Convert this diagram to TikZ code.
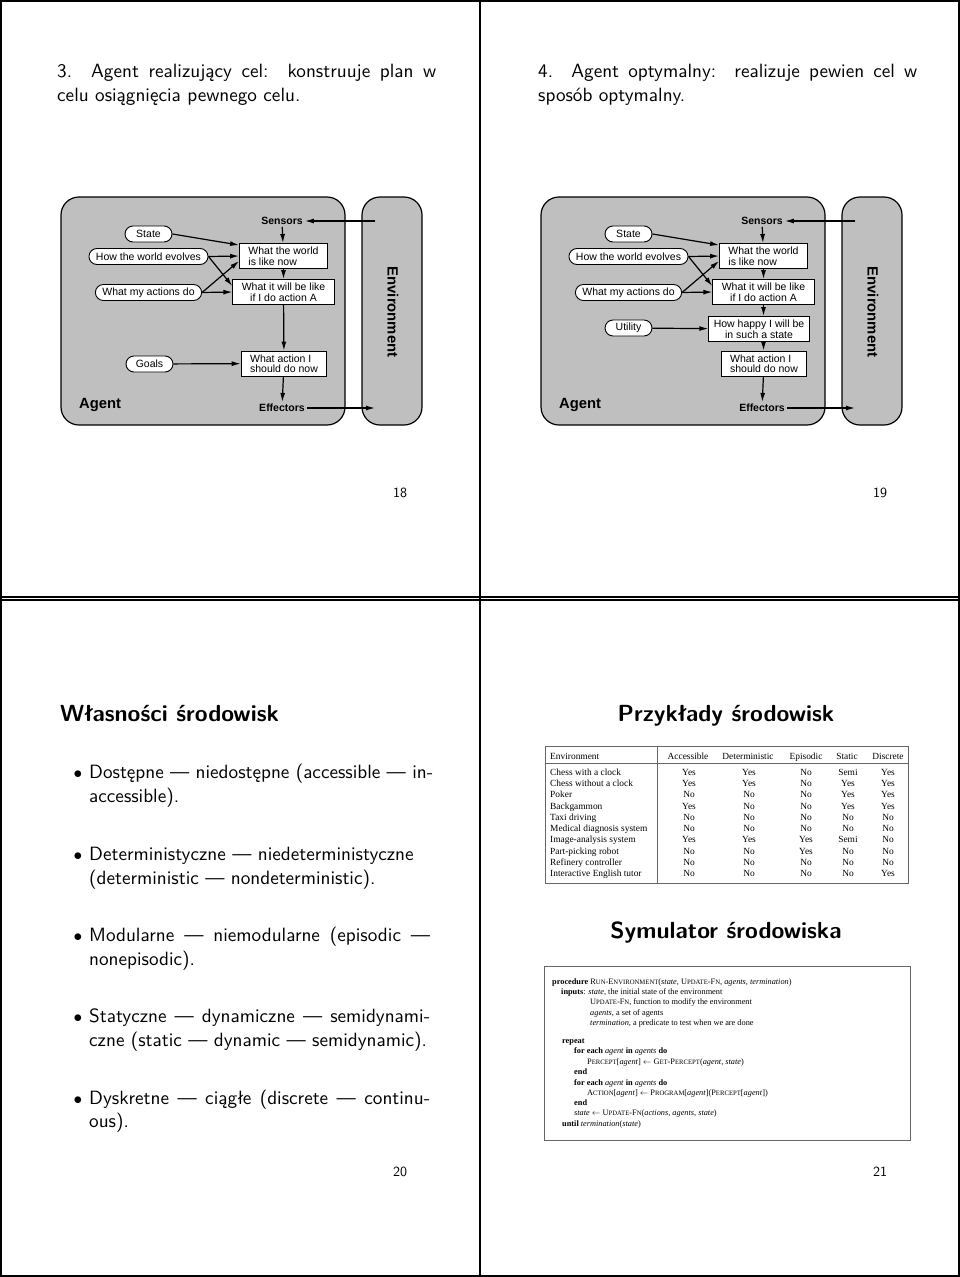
\documentclass[tikz,border=0pt]{standalone}
\usepackage{fontspec}
\usepackage{tikz}
\usetikzlibrary{positioning,arrows.meta,calc}

\newfontfamily\slidefont{lmsans10-regular.otf}[BoldFont=lmsans10-bold.otf]
\newfontfamily\arialfont{Liberation Sans}
\newfontfamily\timesfont{Liberation Serif}
\newcommand\fakesc[1]{{\fontsize{6.7}{6.7}\selectfont #1}}
\definecolor{agentgray}{gray}{0.75}
\definecolor{framegray}{gray}{0.4}

\begin{document}
\begin{tikzpicture}[x=1pt, y=-1pt, >={Latex[length=9pt,width=5pt]},
  slide/.style={anchor=base west, inner sep=0pt, font=\slidefont\fontsize{19.2}{24}\selectfont},
  slidetitle/.style={inner sep=0pt, font=\slidefont\bfseries\fontsize{23.3}{28}\selectfont},
  pagenum/.style={inner sep=0pt, font=\slidefont\fontsize{14}{16}\selectfont},
  agentbox/.style={draw, line width=1.2pt, fill=agentgray, rounded corners=18pt},
  oval/.style={draw, fill=white, line width=0.9pt, rounded corners=8pt, minimum height=16pt,
               minimum width=47pt, inner xsep=7pt, inner ysep=0pt, font=\arialfont\fontsize{10.5}{10.5}\selectfont},
  box/.style={draw, fill=white, line width=0.9pt, minimum height=25pt, inner xsep=9pt, inner ysep=2pt,
              align=left, font=\arialfont\fontsize{10.5}{10.5}\selectfont},
  lbl/.style={inner sep=2pt, font=\arialfont\bfseries\fontsize{10.5}{12}\selectfont},
  bigbold/.style={inner sep=0pt, font=\arialfont\bfseries\fontsize{14.8}{16}\selectfont},
  arr/.style={->, line width=1.2pt},
  cell/.style={inner sep=0pt, anchor=base, font=\timesfont\fontsize{9.4}{11}\selectfont},
  algline/.style={inner sep=0pt, anchor=base west, font=\timesfont\fontsize{8.3}{9}\selectfont},
]
\useasboundingbox (0,0) rectangle (960,1277);

% page frame
\draw[line width=1.5pt] (1,1) rectangle (959,1276);
\draw[line width=2pt] (480,0) -- (480,1277);
\draw[line width=1.2pt] (0,597) -- (960,597) (0,600) -- (960,600);

% slide 18
\node[slide] (t3a) at (57,77) {\makebox[379pt][s]{3.\ \ Agent realizujący cel:\ \ konstruuje plan w}};
\node[slide] (t3b) at (57,101) {celu osiągnięcia pewnego celu.};

\node[agentbox, minimum width=284pt, minimum height=228pt] (gbody) at (203,311) {};
\node[agentbox, minimum width=60pt, minimum height=228pt] (genvbox) at (392,311) {};
\node[bigbold, rotate=-90] (genv) at (393,312) {Environment};
\node[bigbold, anchor=base west] (gagent) at (79,408) {Agent};

\node[lbl] (gsens) at (282,221) {Sensors};
\node[lbl] (geff) at (282,408) {Effectors};
\coordinate (genvin) at (375,221);
\coordinate (genvout) at (375,408);

\node[oval] (gstate) at (148.5,234) {State};
\node[oval] (gevolve) at (148.5,256.5) {How the world evolves};
\node[oval] (gactions) at (148.5,292.5) {What my actions do};
\node[oval] (ggoals) at (149.5,364) {Goals};

\node[box] (gworld) at (283.5,256) {What the world\\is like now};
\node[box, align=center] (gwill) at (283.5,292) {What it will be like\\if I do action A};
\node[box] (gaction) at (284,363.5) {What action I\\should do now};

\draw[arr] (genvin) -- (gsens);
\draw[arr] (gsens) -- (gworld);
\draw[arr] (gstate.east) -- ([yshift=-2pt]gworld.north west);
\draw[arr] (gevolve.east) -- (gworld.west);
\draw[arr] (gevolve.east) -- ([yshift=6pt]gwill.west);
\draw[arr] (gactions.east) -- ([yshift=-5pt]gworld.west);
\draw[arr] (gactions.east) -- (gwill.west);
\draw[arr] (gworld) -- (gwill);
\draw[arr] (gwill) -- (gaction);
\draw[arr] (ggoals) -- (gaction);
\draw[arr] (gaction) -- (geff);
\draw[arr] (geff) -- (genvout);

\node[pagenum] (p18) at (400,493) {18};

% slide 19
\node[slide] (t4a) at (538,77) {\makebox[379pt][s]{4.\ \ Agent optymalny:\ \ realizuje pewien cel w}};
\node[slide] (t4b) at (538,101) {sposób optymalny.};

\begin{scope}[xshift=480pt]
\node[agentbox, minimum width=284pt, minimum height=228pt] (ubody) at (203,311) {};
\node[agentbox, minimum width=60pt, minimum height=228pt] (uenvbox) at (392,311) {};
\node[bigbold, rotate=-90] (uenv) at (393,312) {Environment};
\node[bigbold, anchor=base west] (uagent) at (79,408) {Agent};

\node[lbl] (usens) at (282,221) {Sensors};
\node[lbl] (ueff) at (282,408) {Effectors};
\coordinate (uenvin) at (375,221);
\coordinate (uenvout) at (375,408);

\node[oval] (ustate) at (148.5,234) {State};
\node[oval] (uevolve) at (148.5,256.5) {How the world evolves};
\node[oval] (uactions) at (148.5,292.5) {What my actions do};
\node[oval] (uutil) at (148.5,328) {Utility};

\node[box] (uworld) at (283.5,256) {What the world\\is like now};
\node[box, align=center] (uwill) at (283.5,292) {What it will be like\\if I do action A};
\node[box, align=center, inner xsep=5pt] (uhappy) at (279,329) {How happy I will be\\in such a state};
\node[box] (uaction) at (284,363.5) {What action I\\should do now};

\draw[arr] (uenvin) -- (usens);
\draw[arr] (usens) -- (uworld);
\draw[arr] (ustate.east) -- ([yshift=-2pt]uworld.north west);
\draw[arr] (uevolve.east) -- (uworld.west);
\draw[arr] (uevolve.east) -- ([yshift=6pt]uwill.west);
\draw[arr] (uactions.east) -- ([yshift=-5pt]uworld.west);
\draw[arr] (uactions.east) -- (uwill.west);
\draw[arr] (uworld) -- (uwill);
\draw[arr] (uwill.south) -- (uwill.south |- uhappy.north);
\draw[arr] (uutil) -- (uhappy);
\draw[arr] (uhappy.south -| uwill.south) -- (uaction.north -| uwill.south);
\draw[arr] (uaction) -- (ueff);
\draw[arr] (ueff) -- (uenvout);
\end{scope}

\node[pagenum] (p19) at (880,493) {19};

% slide 20
\node[slidetitle, anchor=base west] (wtitle) at (60,721) {Własności środowisk};
\foreach \y [count=\i] in {778,860,941,1022,1104}
  \node[inner sep=0pt, anchor=base, font=\fontsize{16}{16}\selectfont] (dot\i) at (78,\y) {$\bullet$};
\node[slide] (b1a) at (89,778) {\makebox[344pt][s]{Dostępne — niedostępne (accessible — in-}};
\node[slide] (b1b) at (89,802) {accessible).};
\node[slide] (b2a) at (89,860) {Deterministyczne — niedeterministyczne};
\node[slide] (b2b) at (89,884) {(deterministic — nondeterministic).};
\node[slide] (b3a) at (89,941) {\makebox[341pt][s]{Modularne — niemodularne (episodic —}};
\node[slide] (b3b) at (89,965) {nonepisodic).};
\node[slide] (b4a) at (89,1022) {\makebox[341pt][s]{Statyczne — dynamiczne — semidynami-}};
\node[slide] (b4b) at (89,1046) {czne (static — dynamic — semidynamic).};
\node[slide] (b5a) at (89,1104) {\makebox[341pt][s]{Dyskretne — ciągłe (discrete — continu-}};
\node[slide] (b5b) at (89,1127) {ous).};
\node[pagenum] (p20) at (400,1172) {20};

% slide 21
\node[slidetitle, anchor=base] (ptitle) at (726,721) {Przykłady środowisk};
\draw[framegray, line width=0.9pt] (545,746) rectangle (908,883);
\draw[framegray, line width=0.7pt] (545,763.5) -- (908,763.5) (657,746) -- (657,883);
\node[cell, anchor=base west] (hdenv) at (550,759) {Environment};
\node[cell] (hdacc) at (688,759) {Accessible};
\node[cell] (hddet) at (748,759) {Deterministic};
\node[cell] (hdepi) at (806,759) {Episodic};
\node[cell] (hdsta) at (847,759) {Static};
\node[cell] (hddis) at (888,759) {Discrete};
\foreach \nm/\va/\vb/\vc/\vd/\ve [count=\r] in {
  Chess with a clock/Yes/Yes/No/Semi/Yes,
  Chess without a clock/Yes/Yes/No/Yes/Yes,
  Poker/No/No/No/Yes/Yes,
  Backgammon/Yes/No/No/Yes/Yes,
  Taxi driving/No/No/No/No/No,
  Medical diagnosis system/No/No/No/No/No,
  Image-analysis system/Yes/Yes/Yes/Semi/No,
  Part-picking robot/No/No/Yes/No/No,
  Refinery controller/No/No/No/No/No,
  Interactive English tutor/No/No/No/No/Yes}{
  \node[cell, anchor=base west] (env\r) at (550,{775+11.33*(\r-1)}) {\nm};
  \node[cell] (acc\r) at (689,{775+11.33*(\r-1)}) {\va};
  \node[cell] (det\r) at (749,{775+11.33*(\r-1)}) {\vb};
  \node[cell] (epi\r) at (806,{775+11.33*(\r-1)}) {\vc};
  \node[cell] (sta\r) at (848,{775+11.33*(\r-1)}) {\vd};
  \node[cell] (dis\r) at (888,{775+11.33*(\r-1)}) {\ve};
}

\node[slidetitle, anchor=base] (stitle) at (726,938) {Symulator środowiska};
\draw[framegray, line width=0.9pt] (544,966) rectangle (910,1140);
\node[algline] (alg1) at (552,984) {\textbf{procedure} R\fakesc{UN}-E\fakesc{NVIRONMENT}(\textit{state}, U\fakesc{PDATE}-F\fakesc{N}, \textit{agents}, \textit{termination})};
\node[algline] (alg2) at (561,994) {\textbf{inputs}: \textit{state}, the initial state of the environment};
\node[algline] (alg3) at (590,1004.5) {U\fakesc{PDATE}-F\fakesc{N}, function to modify the environment};
\node[algline] (alg4) at (590,1015) {\textit{agents}, a set of agents};
\node[algline] (alg5) at (590,1025.5) {\textit{termination}, a predicate to test when we are done};
\node[algline] (alg6) at (562,1043) {\textbf{repeat}};
\node[algline] (alg7) at (574,1053.5) {\textbf{for each} \textit{agent} \textbf{in} \textit{agents} \textbf{do}};
\node[algline] (alg8) at (587,1064) {P\fakesc{ERCEPT}[\textit{agent}] $\leftarrow$ G\fakesc{ET}-P\fakesc{ERCEPT}(\textit{agent}, \textit{state})};
\node[algline] (alg9) at (574,1074.5) {\textbf{end}};
\node[algline] (alg10) at (574,1085) {\textbf{for each} \textit{agent} \textbf{in} \textit{agents} \textbf{do}};
\node[algline] (alg11) at (587,1095) {A\fakesc{CTION}[\textit{agent}] $\leftarrow$ P\fakesc{ROGRAM}[\textit{agent}](P\fakesc{ERCEPT}[\textit{agent}])};
\node[algline] (alg12) at (574,1105.5) {\textbf{end}};
\node[algline] (alg13) at (574,1115.5) {\textit{state} $\leftarrow$ U\fakesc{PDATE}-F\fakesc{N}(\textit{actions}, \textit{agents}, \textit{state})};
\node[algline] (alg14) at (562,1126) {\textbf{until} \textit{termination}(\textit{state})};
\node[pagenum] (p21) at (880,1172) {21};
\end{tikzpicture}
\end{document}
